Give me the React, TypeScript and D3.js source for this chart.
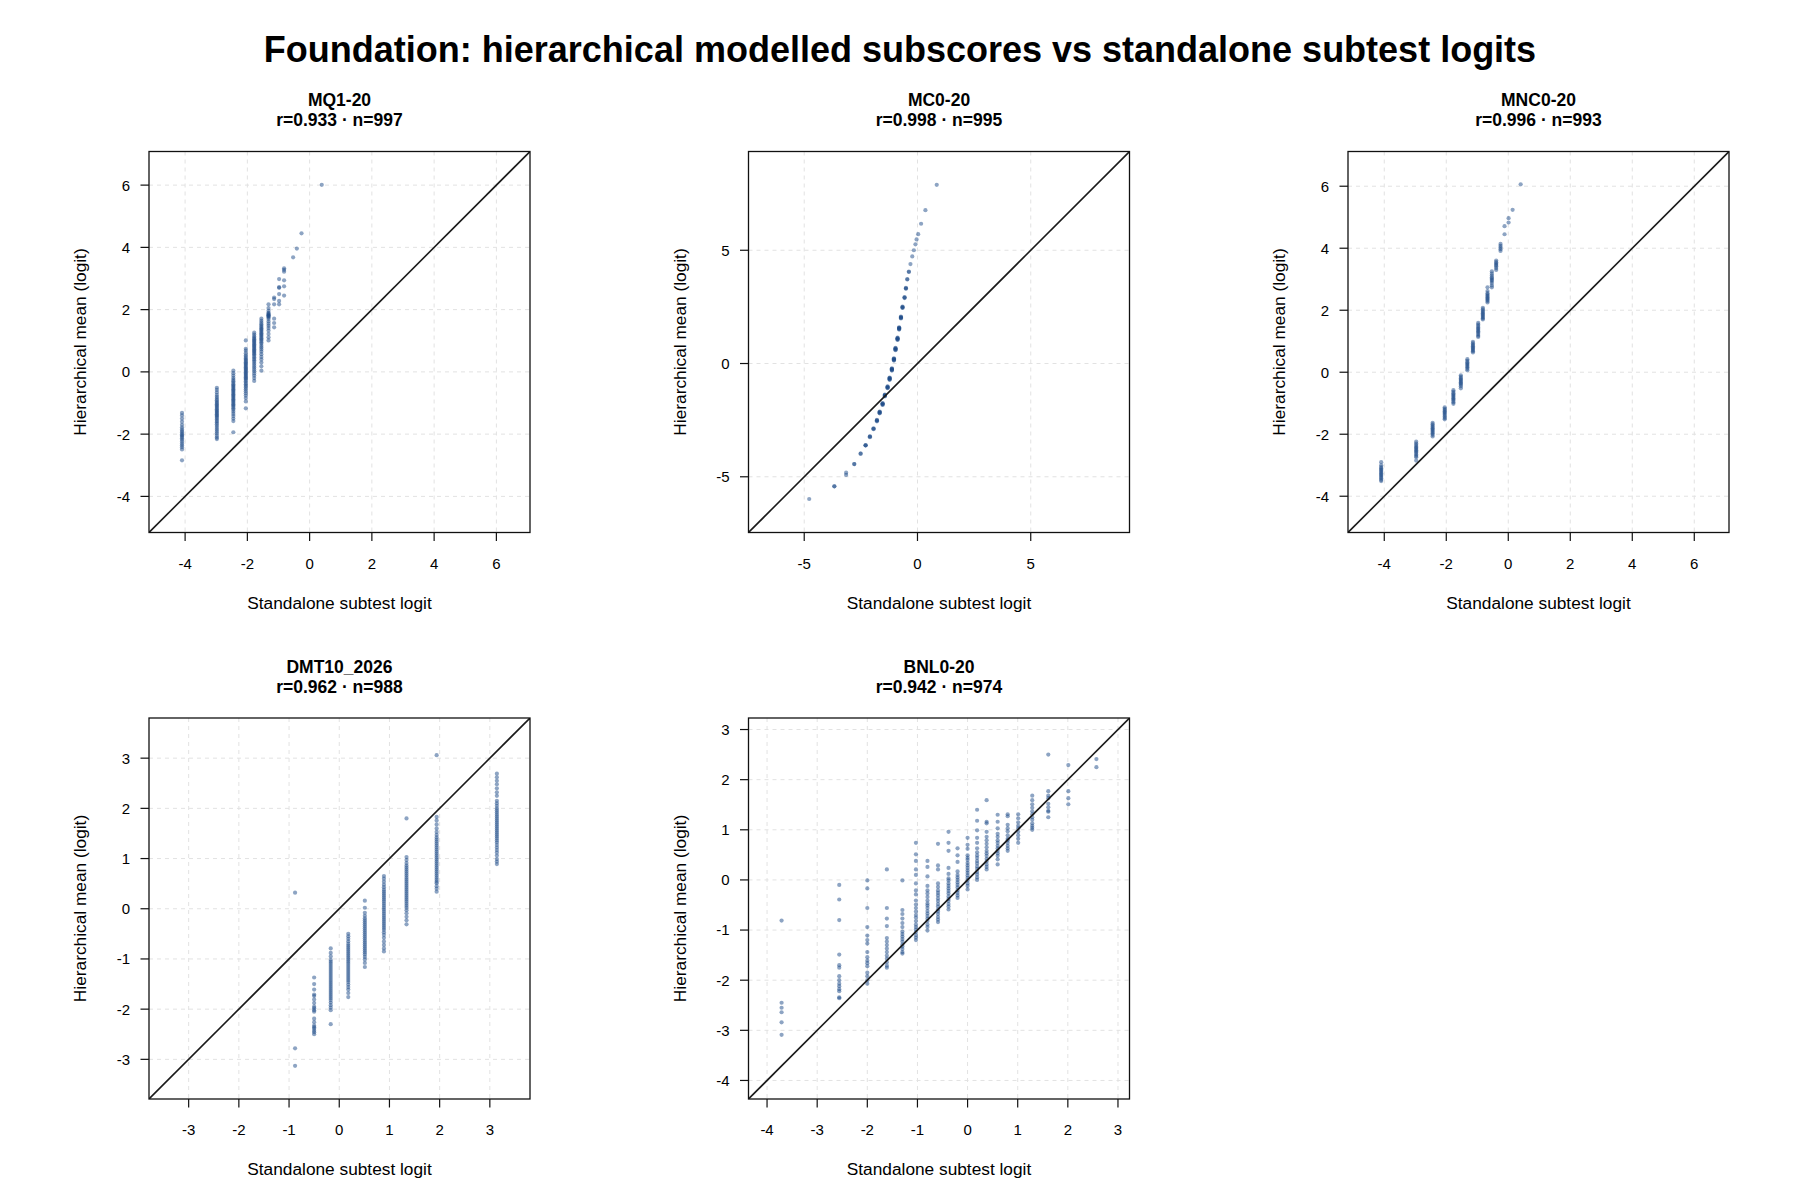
import * as d3 from 'd3';

// Panel labels and summary stats
const subtests = ['MQ1-20', 'MC0-20', 'MNC0-20', 'DMT10_2026', 'BNL0-20'];
const rValues = [0.933, 0.998, 0.996, 0.962, 0.942];
const nValues = [997, 995, 993, 988, 974];

// Shared x/y limits per panel (square, so y = x is the corner-to-corner diagonal)
const axisLimits = [
  [-5.16, 7.08],
  [-7.46, 9.36],
  [-5.17, 7.12],
  [-3.79, 3.8],
  [-4.37, 3.23],
];
const tickValues = [
  [-4, -2, 0, 2, 4, 6],
  [-5, 0, 5],
  [-4, -2, 0, 2, 4, 6],
  [-3, -2, -1, 0, 1, 2, 3],
  [-4, -3, -2, -1, 0, 1, 2, 3],
];

// MQ1-20: standalone logit per score column, hierarchical means in that column
const mq1Cols = [-4.1, -2.98, -2.45, -2.05, -1.78, -1.55, -1.32, -1.14, -0.98, -0.82, -0.53, -0.41, -0.26, 0.39];
const mq1Vals = [
  [-1.32, -1.4, -1.5, -1.6, -1.7, -1.78, -1.85, -1.9, -1.95, -2.0, -2.04, -2.08, -2.13, -2.18, -2.24, -2.3, -2.36, -2.42, -2.49, -2.84],
  [-0.51, -0.58, -0.66, -0.74, -0.8, -0.86, -0.91, -0.96, -1.0, -1.04, -1.08, -1.12, -1.16, -1.2, -1.24, -1.28, -1.32, -1.36, -1.4, -1.44, -1.48, -1.53, -1.58, -1.63, -1.68, -1.74, -1.8, -1.86, -1.92, -1.98, -2.05, -2.11, -2.16],
  [0.04, -0.04, -0.12, -0.19, -0.25, -0.3, -0.35, -0.4, -0.44, -0.48, -0.52, -0.56, -0.6, -0.64, -0.68, -0.72, -0.76, -0.8, -0.84, -0.88, -0.92, -0.96, -1.0, -1.04, -1.08, -1.12, -1.17, -1.22, -1.28, -1.35, -1.42, -1.5, -1.58, -1.94],
  [1.01, 0.74, 0.68, 0.6, 0.53, 0.48, 0.43, 0.39, 0.35, 0.31, 0.27, 0.23, 0.19, 0.15, 0.11, 0.07, 0.03, -0.01, -0.05, -0.09, -0.13, -0.17, -0.21, -0.25, -0.3, -0.35, -0.4, -0.45, -0.5, -0.56, -0.62, -0.69, -0.76, -0.84, -0.95, -1.17],
  [1.26, 1.2, 1.14, 1.09, 1.05, 1.01, 0.97, 0.93, 0.89, 0.85, 0.81, 0.77, 0.73, 0.69, 0.65, 0.61, 0.57, 0.52, 0.47, 0.42, 0.37, 0.32, 0.26, 0.2, 0.14, 0.08, 0.02, -0.05, -0.12, -0.2, -0.29],
  [1.71, 1.64, 1.58, 1.53, 1.48, 1.44, 1.4, 1.36, 1.32, 1.28, 1.24, 1.2, 1.16, 1.12, 1.08, 1.04, 1.0, 0.95, 0.9, 0.84, 0.78, 0.72, 0.65, 0.57, 0.48, 0.4, 0.3, 0.18, 0.04],
  [2.17, 2.05, 1.96, 1.9, 1.87, 1.84, 1.82, 1.8, 1.78, 1.75, 1.7, 1.62, 1.55, 1.48, 1.41, 1.33, 1.22, 1.11, 1.01],
  [2.39, 2.34, 2.17, 1.71, 1.57, 1.43],
  [2.98, 2.72, 2.7, 2.5, 2.28, 2.17],
  [3.33, 3.28, 3.22, 2.94, 2.75, 2.45],
  [3.68],
  [3.96],
  [4.45],
  [6.01],
];

// MC0-20: near-deterministic mapping, so each column is one tight cluster
const mc0Cols = [-4.78, -3.67, -3.15, -2.79, -2.51, -2.29, -2.1, -1.94, -1.79, -1.67, -1.54, -1.44, -1.32, -1.23, -1.13, -1.04, -0.97, -0.88, -0.81, -0.73, -0.66, -0.57, -0.51, -0.45, -0.38, -0.31, -0.23, -0.16, -0.09, -0.04, 0.03, 0.16, 0.35, 0.85];
const mc0Vals = [
  [-5.98],
  [-5.42, -5.42],
  [-4.82, -4.92],
  [-4.44, -4.44],
  [-3.98, -3.98],
  [-3.61, -3.61, -3.61],
  [-3.21, -3.23, -3.25],
  [-2.86, -2.88, -2.9],
  [-2.49, -2.51, -2.53, -2.55],
  [-2.12, -2.14, -2.16, -2.18, -2.2],
  [-1.75, -1.77, -1.79, -1.81, -1.83],
  [-1.37, -1.39, -1.41, -1.43, -1.45],
  [-1.01, -1.03, -1.05, -1.07, -1.09],
  [-0.62, -0.64, -0.66, -0.68, -0.7, -0.72],
  [-0.21, -0.23, -0.25, -0.27, -0.29, -0.31],
  [0.23, 0.21, 0.19, 0.17, 0.15, 0.13],
  [0.69, 0.67, 0.65, 0.63, 0.61, 0.59],
  [1.14, 1.12, 1.1, 1.08, 1.06, 1.04],
  [1.6, 1.58, 1.56, 1.54, 1.52, 1.5],
  [2.07, 2.05, 2.03, 2.01, 1.99],
  [2.51, 2.49, 2.47, 2.45],
  [2.93, 2.91, 2.89],
  [3.34, 3.32, 3.3],
  [3.73, 3.71],
  [4.06, 4.04],
  [4.39],
  [4.73],
  [5.0],
  [5.26],
  [5.48],
  [5.71],
  [6.17],
  [6.77],
  [7.89],
];

// MNC0-20
const mnc0Cols = [-4.1, -2.97, -2.44, -2.05, -1.77, -1.53, -1.32, -1.14, -0.97, -0.82, -0.67, -0.53, -0.39, -0.25, -0.12, 0.01, 0.14, 0.4];
const mnc0Vals = [
  [-2.9, -3.0, -3.06, -3.1, -3.14, -3.18, -3.22, -3.26, -3.3, -3.34, -3.38, -3.42, -3.47, -3.51],
  [-2.24, -2.3, -2.35, -2.4, -2.44, -2.48, -2.52, -2.56, -2.6, -2.65, -2.7, -2.74, -2.85],
  [-1.63, -1.68, -1.73, -1.77, -1.81, -1.85, -1.89, -1.93, -1.97, -2.02, -2.07],
  [-1.13, -1.18, -1.22, -1.26, -1.3, -1.34, -1.38, -1.43, -1.48, -1.52],
  [-0.58, -0.63, -0.68, -0.72, -0.76, -0.8, -0.84, -0.88, -0.92, -0.97, -1.02],
  [-0.1, -0.15, -0.2, -0.24, -0.28, -0.32, -0.36, -0.4, -0.45, -0.52],
  [0.42, 0.37, 0.32, 0.28, 0.24, 0.2, 0.16, 0.11, 0.06],
  [0.98, 0.93, 0.88, 0.84, 0.8, 0.76, 0.72, 0.68, 0.64],
  [1.59, 1.54, 1.49, 1.44, 1.4, 1.36, 1.32, 1.28, 1.23, 1.18, 1.14],
  [2.08, 2.03, 1.98, 1.94, 1.9, 1.86, 1.82, 1.78, 1.74, 1.7],
  [2.74, 2.62, 2.55, 2.5, 2.46, 2.42, 2.38, 2.34, 2.3, 2.25],
  [3.25, 3.18, 3.12, 3.06, 3.02, 2.98, 2.94, 2.88, 2.8, 2.74],
  [3.6, 3.55, 3.5, 3.46, 3.42, 3.36, 3.3],
  [4.14, 4.08, 4.02, 3.97, 3.91],
  [4.71, 4.45],
  [4.97, 4.83],
  [5.24],
  [6.06],
];

// DMT10_2026
const dmt10Cols = [-0.88, -0.5, -0.17, 0.18, 0.51, 0.89, 1.34, 1.94, 3.14];
const dmt10Vals = [
  [0.32, -2.78, -3.13],
  [-1.37, -1.5, -1.61, -1.71, -1.74, -1.81, -1.88, -1.95, -1.98, -2.02, -2.05, -2.19, -2.26, -2.33, -2.36, -2.39, -2.43, -2.46, -2.5],
  [-0.79, -0.88, -0.95, -1.02, -1.06, -1.1, -1.14, -1.18, -1.22, -1.26, -1.3, -1.34, -1.38, -1.42, -1.46, -1.5, -1.54, -1.58, -1.62, -1.66, -1.7, -1.74, -1.78, -1.82, -1.87, -1.92, -1.97, -2.02, -2.3],
  [-0.5, -0.55, -0.6, -0.65, -0.7, -0.74, -0.78, -0.82, -0.86, -0.9, -0.94, -0.98, -1.02, -1.06, -1.1, -1.14, -1.18, -1.22, -1.26, -1.3, -1.34, -1.38, -1.42, -1.46, -1.51, -1.56, -1.61, -1.68, -1.76],
  [0.16, 0.02, -0.08, -0.14, -0.19, -0.23, -0.27, -0.31, -0.35, -0.39, -0.43, -0.47, -0.51, -0.55, -0.59, -0.63, -0.67, -0.71, -0.75, -0.79, -0.83, -0.87, -0.91, -0.96, -1.01, -1.08, -1.16],
  [0.65, 0.6, 0.54, 0.48, 0.43, 0.38, 0.34, 0.3, 0.26, 0.22, 0.18, 0.14, 0.1, 0.06, 0.02, -0.02, -0.06, -0.1, -0.14, -0.18, -0.22, -0.26, -0.3, -0.34, -0.38, -0.42, -0.47, -0.52, -0.58, -0.65, -0.72, -0.79, -0.85],
  [1.8, 1.03, 0.97, 0.91, 0.86, 0.82, 0.78, 0.74, 0.7, 0.66, 0.62, 0.58, 0.54, 0.5, 0.46, 0.42, 0.38, 0.34, 0.3, 0.26, 0.22, 0.18, 0.14, 0.1, 0.06, 0.02, -0.03, -0.09, -0.16, -0.23, -0.31],
  [3.06, 1.83, 1.76, 1.68, 1.6, 1.53, 1.47, 1.42, 1.38, 1.34, 1.3, 1.26, 1.22, 1.18, 1.14, 1.1, 1.06, 1.02, 0.98, 0.94, 0.9, 0.86, 0.82, 0.78, 0.74, 0.7, 0.66, 0.62, 0.58, 0.54, 0.51, 0.45, 0.4, 0.34],
  [2.69, 2.62, 2.55, 2.48, 2.4, 2.32, 2.25, 2.15, 2.1, 2.05, 2.0, 1.96, 1.92, 1.88, 1.84, 1.8, 1.76, 1.72, 1.68, 1.64, 1.6, 1.56, 1.52, 1.48, 1.44, 1.4, 1.36, 1.32, 1.27, 1.22, 1.17, 1.12, 1.06, 0.99, 0.94, 0.89],
];

// BNL0-20
const bnl0Cols = [-3.71, -2.56, -2.0, -1.61, -1.3, -1.03, -0.8, -0.59, -0.38, -0.2, 0.0, 0.19, 0.38, 0.6, 0.8, 1.01, 1.29, 1.61, 2.01, 2.57];
const bnl0Vals = [
  [-0.81, -2.45, -2.55, -2.64, -2.84, -3.09],
  [-0.1, -0.39, -0.8, -1.49, -1.7, -1.75, -1.92, -2.0, -2.07, -2.12, -2.18, -2.22, -2.34, -2.36],
  [-0.01, -0.17, -0.56, -0.94, -1.11, -1.2, -1.27, -1.44, -1.54, -1.61, -1.66, -1.72, -1.85, -1.92, -2.0, -2.07],
  [0.21, -0.56, -0.77, -0.92, -1.16, -1.23, -1.3, -1.37, -1.44, -1.51, -1.57, -1.64, -1.71, -1.75],
  [-0.01, -0.6, -0.68, -0.77, -0.86, -0.94, -1.03, -1.08, -1.13, -1.18, -1.23, -1.29, -1.33, -1.38, -1.44, -1.47],
  [0.74, 0.51, 0.38, 0.21, 0.1, -0.07, -0.21, -0.29, -0.41, -0.49, -0.56, -0.63, -0.7, -0.75, -0.82, -0.89, -0.94, -0.99, -1.04, -1.1, -1.15, -1.2],
  [0.38, 0.26, 0.07, -0.12, -0.21, -0.27, -0.34, -0.41, -0.47, -0.51, -0.56, -0.62, -0.67, -0.72, -0.77, -0.82, -0.89, -0.94, -1.01],
  [0.72, 0.29, 0.21, -0.07, -0.14, -0.21, -0.26, -0.31, -0.37, -0.42, -0.48, -0.53, -0.59, -0.63, -0.68, -0.74, -0.79, -0.84],
  [0.96, 0.74, 0.58, 0.24, 0.12, 0.03, -0.01, -0.07, -0.12, -0.17, -0.22, -0.27, -0.33, -0.38, -0.42, -0.48, -0.53, -0.59],
  [0.63, 0.49, 0.36, 0.17, 0.1, 0.05, 0.0, -0.05, -0.1, -0.15, -0.21, -0.26, -0.31, -0.36],
  [0.84, 0.7, 0.62, 0.49, 0.44, 0.4, 0.34, 0.29, 0.24, 0.19, 0.14, 0.09, 0.04, -0.01, -0.07, -0.12, -0.19],
  [1.4, 1.18, 0.99, 0.84, 0.74, 0.63, 0.55, 0.49, 0.44, 0.38, 0.33, 0.27, 0.22, 0.16, 0.11, 0.05, 0.0],
  [1.59, 1.16, 1.13, 0.96, 0.86, 0.79, 0.72, 0.65, 0.58, 0.53, 0.48, 0.42, 0.37, 0.31, 0.26, 0.21],
  [1.3, 1.16, 1.03, 0.92, 0.86, 0.79, 0.74, 0.68, 0.63, 0.58, 0.53, 0.48, 0.41, 0.31],
  [1.31, 1.27, 1.1, 1.03, 0.97, 0.89, 0.82, 0.79, 0.74, 0.68, 0.63, 0.58],
  [1.31, 1.23, 1.15, 1.08, 1.03, 0.96, 0.89, 0.82, 0.74],
  [1.68, 1.59, 1.51, 1.44, 1.37, 1.31, 1.25, 1.2, 1.13, 1.08, 1.04, 1.0],
  [2.5, 1.77, 1.68, 1.63, 1.52, 1.45, 1.38, 1.36, 1.25],
  [2.29, 1.77, 1.63, 1.51],
  [2.41, 2.25],
];

const panelCols = [mq1Cols, mc0Cols, mnc0Cols, dmt10Cols, bnl0Cols];
const panelVals = [mq1Vals, mc0Vals, mnc0Vals, dmt10Vals, bnl0Vals];

const WIDTH = 1800;
const HEIGHT = 1200;
const BOX = 381;
const colLeft = [149, 748.5, 1348];
const rowTop = [151.5, 718];
const FONT = '"Liberation Sans", Arial, Helvetica, sans-serif';
const POINT = '#1B4A88';

const Panel = ({ idx, left, top }: { idx: number; left: number; top: number }) => {
  const [lo, hi] = axisLimits[idx];
  const x = d3.scaleLinear().domain([lo, hi]).range([0, BOX]);
  const y = d3.scaleLinear().domain([lo, hi]).range([BOX, 0]);
  const ticks = tickValues[idx];
  const clipId = `clip-${idx}`;

  const points: { px: number; py: number }[] = [];
  panelCols[idx].forEach((cx, i) => {
    panelVals[idx][i].forEach((v) => points.push({ px: x(cx), py: y(v) }));
  });

  return (
    <g transform={`translate(${left},${top})`}>
      <defs>
        <clipPath id={clipId}>
          <rect x={0} y={0} width={BOX} height={BOX} />
        </clipPath>
      </defs>

      {/* titles */}
      <text x={BOX / 2} y={-45.5} textAnchor="middle" fontSize={17.5} fontWeight="bold">
        {subtests[idx]}
      </text>
      <text x={BOX / 2} y={-25.5} textAnchor="middle" fontSize={17.5} fontWeight="bold">
        {`r=${rValues[idx].toFixed(3)} · n=${nValues[idx]}`}
      </text>

      {/* grid */}
      <g stroke="#e2e2e2" strokeWidth={1} strokeDasharray="4,4">
        {ticks.map((t) => (
          <line key={`gx${t}`} x1={x(t)} x2={x(t)} y1={0} y2={BOX} />
        ))}
        {ticks.map((t) => (
          <line key={`gy${t}`} x1={0} x2={BOX} y1={y(t)} y2={y(t)} />
        ))}
      </g>

      {/* points */}
      <g clipPath={`url(#${clipId})`}>
        {points.map((p, i) => (
          <circle key={i} cx={p.px} cy={p.py} r={2.1} fill={POINT} fillOpacity={0.5} />
        ))}
        <line x1={x(lo)} y1={y(lo)} x2={x(hi)} y2={y(hi)} stroke="#1a1a1a" strokeWidth={1.6} />
      </g>

      <rect x={0} y={0} width={BOX} height={BOX} fill="none" stroke="#111" strokeWidth={1.3} />

      {/* x axis */}
      {ticks.map((t) => (
        <g key={`xt${t}`}>
          <line x1={x(t)} x2={x(t)} y1={BOX} y2={BOX + 8.5} stroke="#111" strokeWidth={1.2} />
          <text x={x(t)} y={BOX + 36} textAnchor="middle" fontSize={15}>
            {t}
          </text>
        </g>
      ))}
      {/* y axis */}
      {ticks.map((t) => (
        <g key={`yt${t}`}>
          <line x1={-8.5} x2={0} y1={y(t)} y2={y(t)} stroke="#111" strokeWidth={1.2} />
          <text x={-19} y={y(t)} dy="0.36em" textAnchor="end" fontSize={15}>
            {t}
          </text>
        </g>
      ))}

      <text x={BOX / 2} y={BOX + 76} textAnchor="middle" fontSize={17.3}>
        Standalone subtest logit
      </text>
      <text
        transform={`translate(${-63},${BOX / 2}) rotate(-90)`}
        textAnchor="middle"
        fontSize={17.3}
      >
        Hierarchical mean (logit)
      </text>
    </g>
  );
};

export default function App() {
  return (
    <div style={{ position: 'absolute', left: 0, top: 0 }}>
      <svg width={WIDTH} height={HEIGHT} style={{ display: 'block', background: 'white', fontFamily: FONT }}>
        <rect width={WIDTH} height={HEIGHT} fill="white" />
        <text x={900} y={62} textAnchor="middle" fontSize={36} fontWeight="bold">
          Foundation: hierarchical modelled subscores vs standalone subtest logits
        </text>
        {subtests.map((_, i) => (
          <Panel key={i} idx={i} left={colLeft[i % 3]} top={rowTop[Math.floor(i / 3)]} />
        ))}
      </svg>
    </div>
  );
}
